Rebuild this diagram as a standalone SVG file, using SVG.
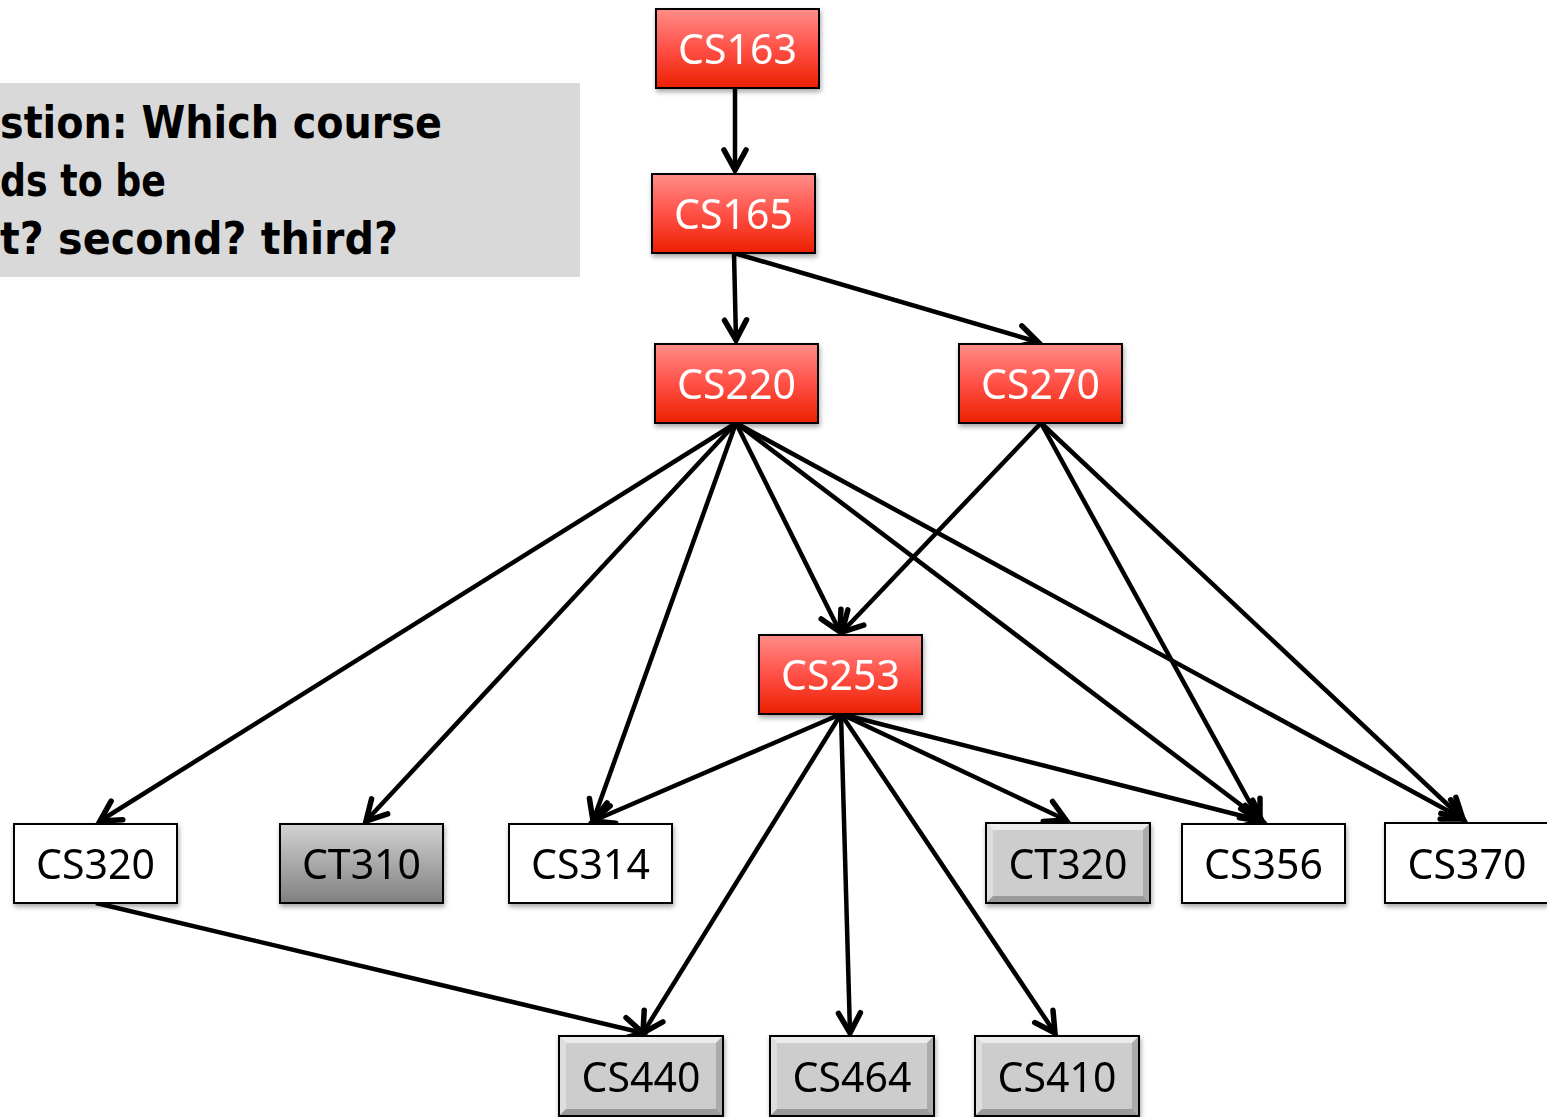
<svg xmlns="http://www.w3.org/2000/svg" xmlns:xlink="http://www.w3.org/1999/xlink" width="1547" height="1117" viewBox="0 0 1547 1117">
  <style>
    .edge { stroke: #000; stroke-width: 4.5; fill: none; marker-end: url(#arrow); }
    .box { stroke: #000; stroke-width: 2; }
    .red { fill: url(#redGrad); }
    .white { fill: #fff; }
    .dark { fill: url(#darkGrad); }
    .label { font-family: "Noto Sans", "Open Sans", "Liberation Sans", sans-serif; font-size: 41px; text-anchor: middle; }
    .lw { fill: #fff; }
    .lb { fill: #000; }
    .note { font-family: "DejaVu Sans", "Liberation Sans", sans-serif; font-weight: bold; font-size: 44px; fill: #000; }
  </style>
  <defs>
    <linearGradient id="redGrad" x1="0" y1="0" x2="0" y2="1">
      <stop offset="0" stop-color="#ff8d88"/>
      <stop offset="0.5" stop-color="#ff5047"/>
      <stop offset="1" stop-color="#ec2000"/>
    </linearGradient>
    <linearGradient id="darkGrad" x1="0" y1="0" x2="0" y2="1">
      <stop offset="0" stop-color="#d2d2d2"/>
      <stop offset="1" stop-color="#808080"/>
    </linearGradient>
    <filter id="shadow" x="-10%" y="-10%" width="130%" height="140%">
      <feDropShadow dx="1" dy="3" stdDeviation="2.5" flood-color="#000" flood-opacity="0.35"/>
    </filter>
    <marker id="arrow" markerUnits="userSpaceOnUse" markerWidth="30" markerHeight="30" viewBox="-24 -15 30 30" refX="0" refY="0" orient="auto" overflow="visible">
      <path d="M-20,-11 L0,0 L-20,11" fill="none" stroke="#000" stroke-width="5.5" stroke-linejoin="miter" stroke-linecap="round"/>
    </marker>
    <!-- bevelled grey box, 164 x 80 -->
    <g id="bevel">
      <rect x="0" y="0" width="164" height="80" fill="#cdcdcd"/>
      <polygon points="0,0 164,0 157,7 7,7" fill="#ececec"/>
      <polygon points="0,0 7,7 7,73 0,80" fill="#dedede"/>
      <polygon points="164,0 164,80 157,73 157,7" fill="#ababab"/>
      <polygon points="0,80 7,73 157,73 164,80" fill="#9a9a9a"/>
      <rect x="0" y="0" width="164" height="80" fill="none" stroke="#000" stroke-width="2"/>
    </g>
  </defs>

  <rect width="1547" height="1117" fill="#fff"/>

  <!-- question panel -->
  <g id="question">
    <rect x="0" y="83" width="580" height="194" fill="#d9d9d9"/>
    <text class="note" x="0" y="138" textLength="442" lengthAdjust="spacingAndGlyphs">stion: Which course</text>
    <text class="note" x="0" y="196" textLength="166" lengthAdjust="spacingAndGlyphs">ds to be</text>
    <text class="note" x="0" y="254" textLength="398" lengthAdjust="spacingAndGlyphs">t?  second? third?</text>
  </g>

  <!-- prerequisite arrows -->
  <g id="connectors">
    <line class="edge" x1="735" y1="88" x2="735" y2="170"/>
    <line class="edge" x1="734" y1="253" x2="736" y2="340"/>
    <line class="edge" x1="734" y1="253" x2="1038" y2="342"/>
    <line class="edge" x1="736" y1="423" x2="100" y2="821"/>
    <line class="edge" x1="736" y1="423" x2="366" y2="821"/>
    <line class="edge" x1="736" y1="423" x2="593" y2="821"/>
    <line class="edge" x1="736" y1="423" x2="840" y2="632"/>
    <line class="edge" x1="736" y1="423" x2="1262" y2="821"/>
    <line class="edge" x1="736" y1="423" x2="1463" y2="819"/>
    <line class="edge" x1="1041" y1="423" x2="842" y2="632"/>
    <line class="edge" x1="1041" y1="423" x2="1260" y2="821"/>
    <line class="edge" x1="1041" y1="423" x2="1463" y2="819"/>
    <line class="edge" x1="841" y1="714" x2="593" y2="821"/>
    <line class="edge" x1="841" y1="714" x2="1066" y2="820"/>
    <line class="edge" x1="841" y1="714" x2="1262" y2="821"/>
    <line class="edge" x1="841" y1="714" x2="643" y2="1033"/>
    <line class="edge" x1="841" y1="714" x2="850" y2="1033"/>
    <line class="edge" x1="841" y1="714" x2="1055" y2="1033"/>
    <line class="edge" x1="96" y1="903" x2="643" y2="1033"/>
  </g>

  <!-- courses -->
  <g id="CS163" filter="url(#shadow)">
    <rect class="box red" x="656" y="9" width="163" height="79"/>
    <text class="label lw" x="737.5" y="64">CS163</text>
  </g>
  <g id="CS165" filter="url(#shadow)">
    <rect class="box red" x="652" y="174" width="163" height="79"/>
    <text class="label lw" x="733.5" y="229">CS165</text>
  </g>
  <g id="CS220" filter="url(#shadow)">
    <rect class="box red" x="655" y="344" width="163" height="79"/>
    <text class="label lw" x="736.5" y="399">CS220</text>
  </g>
  <g id="CS270" filter="url(#shadow)">
    <rect class="box red" x="959" y="344" width="163" height="79"/>
    <text class="label lw" x="1040.5" y="399">CS270</text>
  </g>
  <g id="CS253" filter="url(#shadow)">
    <rect class="box red" x="759" y="635" width="163" height="79"/>
    <text class="label lw" x="840.5" y="690">CS253</text>
  </g>
  <g id="CS320" filter="url(#shadow)">
    <rect class="box white" x="14" y="824" width="163" height="79"/>
    <text class="label lb" x="95.5" y="879">CS320</text>
  </g>
  <g id="CT310" filter="url(#shadow)">
    <rect class="box dark" x="280" y="824" width="163" height="79"/>
    <text class="label lb" x="361.5" y="879">CT310</text>
  </g>
  <g id="CS314" filter="url(#shadow)">
    <rect class="box white" x="509" y="824" width="163" height="79"/>
    <text class="label lb" x="590.5" y="879">CS314</text>
  </g>
  <g id="CT320" filter="url(#shadow)">
    <use href="#bevel" x="986" y="823"/>
    <text class="label lb" x="1068" y="879">CT320</text>
  </g>
  <g id="CS356" filter="url(#shadow)">
    <rect class="box white" x="1182" y="824" width="163" height="79"/>
    <text class="label lb" x="1263.5" y="879">CS356</text>
  </g>
  <g id="CS370" filter="url(#shadow)">
    <rect class="box white" x="1385" y="823" width="163" height="80"/>
    <text class="label lb" x="1467" y="879">CS370</text>
  </g>
  <g id="CS440" filter="url(#shadow)">
    <use href="#bevel" x="559" y="1036"/>
    <text class="label lb" x="641" y="1092">CS440</text>
  </g>
  <g id="CS464" filter="url(#shadow)">
    <use href="#bevel" x="770" y="1036"/>
    <text class="label lb" x="852" y="1092">CS464</text>
  </g>
  <g id="CS410" filter="url(#shadow)">
    <use href="#bevel" x="975" y="1036"/>
    <text class="label lb" x="1057" y="1092">CS410</text>
  </g>
</svg>
